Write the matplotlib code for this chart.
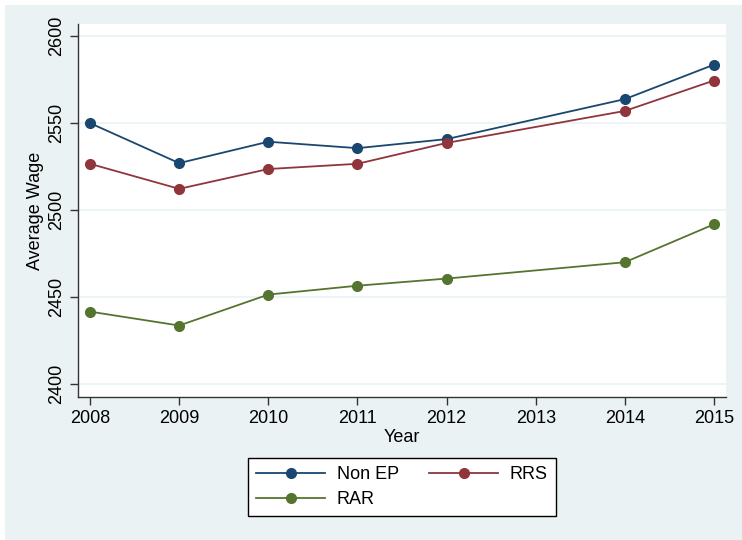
import matplotlib
matplotlib.use("Agg")
import matplotlib.pyplot as plt
from matplotlib.patches import Rectangle

# data
years = [2008, 2009, 2010, 2011, 2012, 2014, 2015]
non_ep = [2550.0, 2527.0, 2539.3, 2535.6, 2540.8, 2563.8, 2583.6]
rrs = [2526.6, 2512.2, 2523.6, 2526.6, 2538.6, 2557.0, 2574.5]
rar = [2441.6, 2433.6, 2451.4, 2456.5, 2460.6, 2470.0, 2491.8]
xticks = [2008, 2009, 2010, 2011, 2012, 2013, 2014, 2015]
yticks = [2400, 2450, 2500, 2550, 2600]

plt.rcParams['font.family'] = ['Liberation Sans', 'DejaVu Sans']

bg = '#eaf2f3'
fs = 13
fig = plt.figure(figsize=(7.42, 5.40), dpi=100)
fig.patch.set_facecolor('white')
# light background panel (white strip on the left/top)
fig.patches.append(Rectangle((5 / 742, 0), 1, 1 - 5 / 540, transform=fig.transFigure,
                             facecolor=bg, edgecolor='none', zorder=-10))

ax = fig.add_axes([78 / 742, 1 - 397 / 540, 648 / 742, 373 / 540])
ax.set_facecolor('white')

l1, = ax.plot(years, non_ep, color='#1a476f', marker='o', markersize=7, linewidth=1.3, label='Non EP')
l2, = ax.plot(years, rrs, color='#90353b', marker='o', markersize=7, linewidth=1.3, label='RRS')
l3, = ax.plot(years, rar, color='#55752f', marker='o', markersize=7, linewidth=1.3, label='RAR')

ax.set_xlim(2007.865, 2015.135)
ax.set_ylim(2392.5, 2607)
ax.set_xticks(xticks)
ax.set_yticks(yticks)
ax.set_yticklabels([str(v) for v in yticks], rotation=90, va='center')
ax.tick_params(axis='both', labelsize=fs, length=6, width=1, color='#333333', direction='out')
ax.grid(axis='y', color=bg, linewidth=1.2)
ax.set_axisbelow(True)

for s in ['top', 'right']:
    ax.spines[s].set_visible(False)
for s in ['left', 'bottom']:
    ax.spines[s].set_color('#333333')
    ax.spines[s].set_linewidth(1)

ax.set_xlabel('Year', fontsize=fs, labelpad=1)
ax.set_ylabel('Average Wage', fontsize=fs, labelpad=3)

# row-major order like Stata: Non EP, RRS / RAR
leg = ax.legend([l1, l3, l2], ['Non EP', 'RAR', 'RRS'], loc='upper center',
                bbox_to_anchor=(0.5, -0.1635), ncol=2, fontsize=fs,
                frameon=True, fancybox=False, edgecolor='black', framealpha=1,
                handlelength=3.8, handletextpad=0.65, columnspacing=1.7,
                borderpad=0.45, labelspacing=0.45, borderaxespad=0, markerscale=1)
leg.get_frame().set_linewidth(1)

fig.savefig('out.png', dpi=100, facecolor=fig.get_facecolor())
